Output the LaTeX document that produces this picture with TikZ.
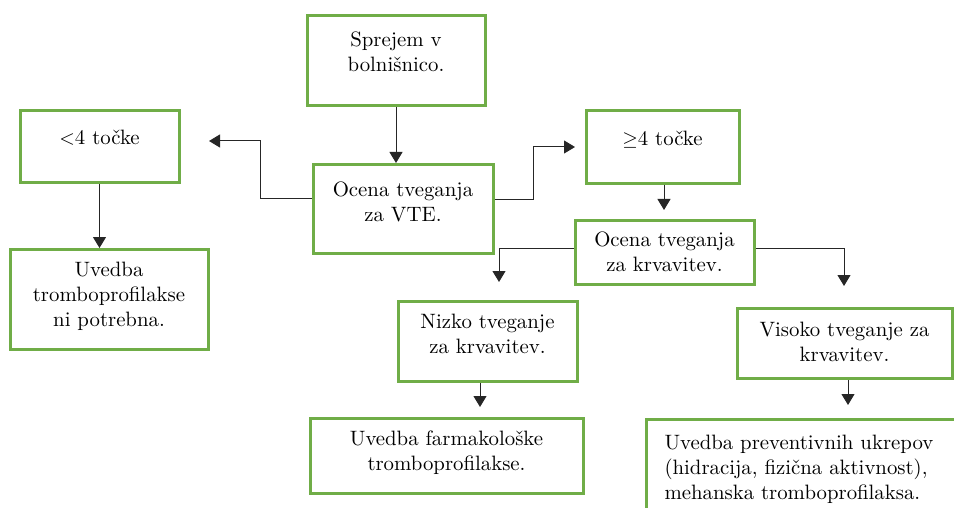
\documentclass[tikz,border=0pt]{standalone}
\usepackage{fontspec}
\usetikzlibrary{arrows.meta}
\definecolor{boxgreen}{RGB}{112,173,71}
\newlength{\pxu}
\setlength{\pxu}{0.5pt}
\tikzstyle{stepbox} = [draw=boxgreen, line width=1.5pt, inner sep=0pt, anchor=north, fill=white]
\tikzstyle{link} = [draw=black!85, line width=0.5pt, -{Triangle[length=5.5pt,width=6.5pt]}]
\newcommand{\boxtxt}[4]{\parbox[c][#2\pxu][t]{#1\pxu}{\centering\fontsize{10.4}{12.6}\selectfont\rule{0pt}{#3\pxu}#4}}
\newcommand{\boxtxtl}[4]{\parbox[c][#2\pxu][t]{#1\pxu}{\raggedright\leftskip=18\pxu\fontsize{10.4}{12.6}\selectfont\rule{0pt}{#3\pxu}#4}}

\begin{document}
\begin{tikzpicture}[x=0.5pt, y=-0.5pt]
	\clip (0,0) rectangle (954,508);
	\node[stepbox] (spr) at (396,14) {\boxtxt{178}{90}{31}{Sprejem v\\bolnišnico.}};
	\node[stepbox] (vte) at (403,163) {\boxtxt{180}{89}{32}{Ocena tveganja\\za VTE.}};
	\node[stepbox] (lt4) at (99.5,109) {\boxtxt{159}{72}{34}{$<$4 točke}};
	\node[stepbox] (ge4) at (662.5,109) {\boxtxt{153}{73}{35}{$\geq$4 točke}};
	\node[stepbox] (nip) at (109,248) {\boxtxt{198}{100}{27}{Uvedba\\tromboprofilakse\\ni potrebna.}};
	\node[stepbox] (krv) at (664.5,219) {\boxtxt{179}{64}{26}{Ocena tveganja\\za krvavitev.}};
	\node[stepbox] (nizko) at (487.5,300) {\boxtxt{179}{80}{27}{Nizko tveganje\\za krvavitev.}};
	\node[stepbox] (visoko) at (844.5,307) {\boxtxt{215}{70}{28}{Visoko tveganje za\\krvavitev.}};
	\node[stepbox] (farm) at (446.5,417) {\boxtxt{273}{75}{27}{Uvedba farmakološke\\tromboprofilakse.}};
	\node[stepbox, anchor=north west] (prev) at (645,418) {\boxtxtl{330}{110}{30}{Uvedba preventivnih ukrepov\\(hidracija, fizična aktivnost),\\mehanska tromboprofilaksa.}};

	\coordinate (lbend) at (260,199);
	\coordinate (ltip) at (209,141);
	\coordinate (rbend) at (533,200);
	\coordinate (gtip) at (575,147);
	\coordinate (krvtip) at (664,210);
	\coordinate (ntip) at (499,282);
	\coordinate (vtip) at (844,286);
	\coordinate (ftip) at (480,407);
	\coordinate (ptip) at (848,405);

	\draw[link] (spr.south) -- (spr.south |- vte.north);
	\draw[link] (vte.west |- lbend) -- (lbend) |- (ltip);
	\draw[link] (vte.east |- rbend) -- (rbend) |- (gtip);
	\draw[link] (lt4.south) -- (lt4.south |- nip.north);
	\draw[link] (ge4.south -| krvtip) -- (krvtip);
	\draw[link] (krv.west |- 0,248) -| (ntip);
	\draw[link] (krv.east |- 0,248) -| (vtip);
	\draw[link] (nizko.south -| ftip) -- (ftip);
	\draw[link] (visoko.south -| ptip) -- (ptip);
\end{tikzpicture}
\end{document}
